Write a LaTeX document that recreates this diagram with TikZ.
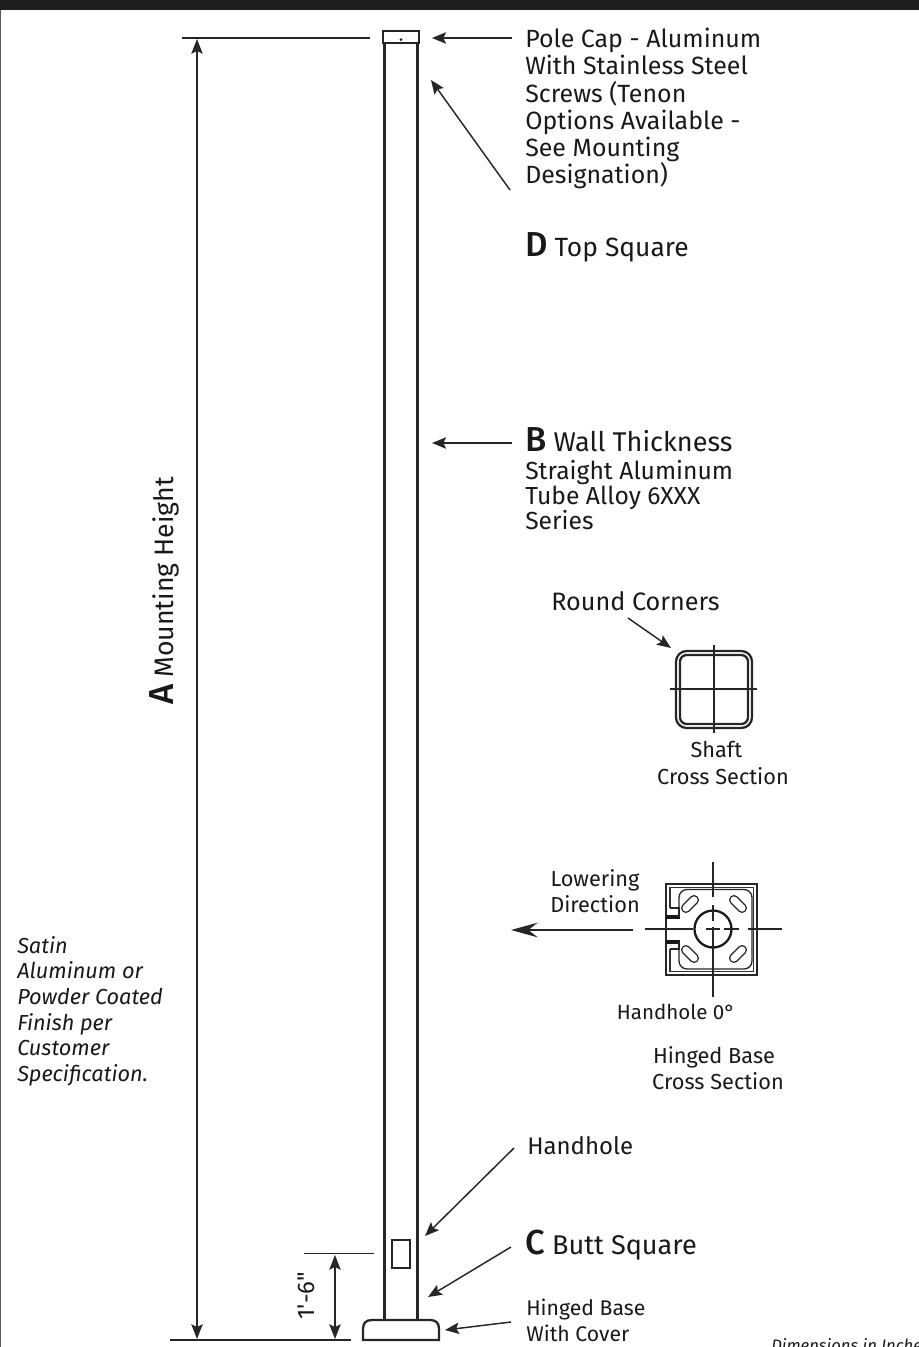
\documentclass[tikz,border=0pt]{standalone}
\usepackage{fontspec}
\setmainfont{Fira Sans}
\newfontfamily\plainf{Fira Sans}
\newfontfamily\medf{Fira Sans Medium}
\usetikzlibrary{arrows.meta}
\newcommand{\bigL}[1]{{\medf\fontsize{26}{26}\selectfont #1}}
\tikzset{
  x=0.75pt,y=-0.75pt,
  dim/.style={line width=1.1pt,draw=black!85},
  darrow/.style={dim,{Stealth[length=11pt,width=8.5pt,inset=2pt]}-{Stealth[length=11pt,width=8.5pt,inset=2pt]}},
  parrow/.style={dim,-{Stealth[length=10.5pt,width=8.5pt,inset=2pt]}},
  heavy/.style={line width=1.7pt,draw=black!85},
  thinl/.style={line width=0.8pt,draw=black!85},
  lab/.style={anchor=north west,inner sep=0,align=left,text=black!90,font=\fontsize{18.7}{20.4}\selectfont},
  lead/.style={anchor=base west,inner sep=0,align=left,text=black!90,font=\fontsize{20.3}{22}\selectfont},
  small/.style={anchor=center,inner sep=0,align=center,text=black!90,font=\fontsize{16.3}{20}\selectfont},
  ital/.style={anchor=north west,inner sep=0,align=left,text=black!90,font=\itshape\fontsize{16.3}{19.2}\selectfont},
}
\begin{document}
\begin{tikzpicture}
\useasboundingbox (0,0) rectangle (919,1347);
\clip (0,0) rectangle (919,1347);
\fill[black!88] (0,0) rectangle (919,10);
\draw[line width=1.2pt,draw=black!65] (0.5,10) -- (0.5,1347);
% pole
\draw[heavy] (384.5,43) -- (384.5,1320);
\draw[heavy] (417.5,43) -- (417.5,1320);
\draw[heavy] (383,31) rectangle (419,43);
\fill[black!88] (401,39.5) circle (1.5);
\draw[heavy] (392,1240) rectangle (410,1268);
\draw[heavy] (363,1340) -- (363,1329) .. controls (363,1323) and (366,1320) .. (372,1320) -- (430,1320) .. controls (436,1320) and (439,1323) .. (439,1329) -- (439,1340) -- cycle;
% dimension coordinates
\coordinate (hta) at (182,38); \coordinate (htb) at (370,38);
\coordinate (hba) at (170,1340); \coordinate (hbb) at (351,1340);
\coordinate (arT) at (197,39); \coordinate (arB) at (197,1339);
\coordinate (sa) at (304,1253.5); \coordinate (sb) at (374,1253.5);
\coordinate (srT) at (335,1255); \coordinate (srB) at (335,1339);
\draw[dim] (hta) -- (htb);
\draw[dim] (hba) -- (hbb);
\draw[darrow] (arT) -- (arB);
\draw[dim] (sa) -- (sb);
\draw[darrow] (srT) -- (srB);
\node[anchor=base west,rotate=90,inner sep=0,text=black!90,font=\fontsize{20}{20}\selectfont] (dimA) at (173,705) {\bigL{A} Mounting Height};
\node[anchor=center,rotate=90,inner sep=0,text=black!90,font=\plainf\fontsize{18}{20}\selectfont] (dimS) at (306,1296) {1'-6"};
% labels
\node[lab] (cap) at (525,28) {Pole Cap - Aluminum\\With Stainless Steel\\Screws (Tenon\\Options Available -\\See Mounting\\Designation)};
\node[lead,font=\fontsize{19.8}{22}\selectfont] (top) at (525,256) {\bigL{D} Top Square};
\node[lead] (wall) at (525,451) {\bigL{B} Wall Thickness};
\node[lab,font=\fontsize{18.5}{18.8}\selectfont] (alloy) at (525,459.5) {Straight Aluminum\\Tube Alloy 6XXX\\Series};
\node[lab,anchor=west,font=\fontsize{18.9}{20}\selectfont] (round) at (551,601) {Round Corners};
\node[small] (shaft) at (723,763) {Shaft\hspace*{10pt}\\Cross Section};
\node[small] (lower) at (595,891) {Lowering\\Direction};
\node[small,font=\fontsize{15.4}{20}\selectfont] (hh0) at (676,1012) {Handhole 0°};
\node[small] (hinged) at (718,1068) {Hinged Base\hspace*{6pt}\\Cross Section};
\node[ital] (finish) at (17,936) {Satin\\Aluminum or\\Powder Coated\\Finish per\\Customer\\Specification.};
\node[lab,anchor=west,font=\fontsize{18}{20}\selectfont] (hhole) at (527,1146) {Handhole};
\node[lead] (butt) at (525,1254) {\bigL{C} Butt Square};
\node[small,anchor=north west,align=left,font=\fontsize{15.9}{19}\selectfont] (hbase) at (526,1299) {Hinged Base\\With Cover};
\node[anchor=west,inner sep=0,text=black!90,font=\itshape\fontsize{12.5}{14}\selectfont] (dims) at (771,1345) {Dimensions in Inches};
% pointer arrows
\coordinate (p1) at (512,38); \coordinate (t1) at (432,38);
\coordinate (p2) at (510,190); \coordinate (t2) at (431,80);
\coordinate (p3) at (512,443); \coordinate (t3) at (432,443);
\coordinate (p4) at (628,618); \coordinate (t4) at (671,648);
\coordinate (p5) at (514,1148); \coordinate (t5) at (425,1236);
\coordinate (p6) at (511,1247); \coordinate (t6) at (428,1297);
\coordinate (p7) at (511,1322); \coordinate (t7) at (445,1330);
\coordinate (p8) at (633,930); \coordinate (t8) at (511,930);
\foreach \a/\b in {p1/t1,p2/t2,p3/t3,p4/t4,p5/t5,p6/t6,p7/t7}{\draw[parrow] (\a) -- (\b);}
\draw[dim,-{Stealth[length=20pt,width=11pt,inset=7pt]}] (p8) -- (t8);
% shaft section
\draw[heavy,rounded corners=8] (676,651) rectangle (752,728);
\draw[heavy,rounded corners=5] (680,655) rectangle (748,724);
\draw[thinl] (670,689) -- (757,689);
\draw[thinl] (714,645) -- (714,733);
% hinged base section
\draw[heavy] (666,884) rectangle (757,975);
\draw[line width=0.8pt,draw=black!80] (670,908) -- (670,887.5) -- (753.5,887.5) -- (753.5,971.5) -- (670,971.5) -- (670,949);
\draw[line width=1pt,draw=black!85,rounded corners=6] (679,889.5) rectangle (752,969);
\fill[white] (664,919) rectangle (680,940);
\draw[thinl] (666,919) -- (666,940);
\draw[line width=2.6pt,draw=black!90] (666,917) -- (680,917);
\draw[line width=2.6pt,draw=black!90] (666,942) -- (680,942);
\draw[line width=1pt,draw=black!85] (670,908) -- (679,908) -- (679,917);
\draw[line width=1pt,draw=black!85] (670,949) -- (679,949) -- (679,942);
\draw[line width=1.7pt,draw=black!90] (713,929) circle (18.5);
\foreach \cx/\cy/\ang in {690/904/45,738/904/-45,690/954/-45,738/954/45}{
  \draw[line width=0.9pt,draw=black!85,rotate around={\ang:(\cx,\cy)},rounded corners=3] (\cx-10,\cy-4.2) rectangle (\cx+10,\cy+4.2);
}
\draw[thinl] (645,929) -- (693,929) (706,929) -- (720,929) (724,929) -- (739,929) (748,929) -- (782,929);
\draw[thinl] (713,862) -- (713,897) (713,905) -- (713,921) (713,927) -- (713,997);
\end{tikzpicture}
\end{document}
